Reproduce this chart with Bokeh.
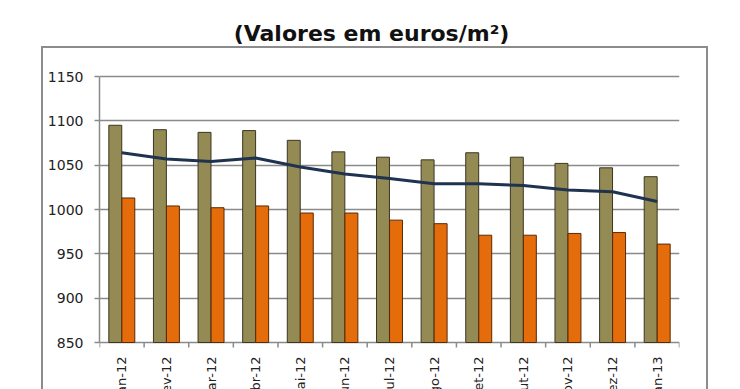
import numpy as np
from bokeh.plotting import figure
from bokeh.models import ColumnDataSource, FixedTicker, Range1d, InlineStyleSheet
from bokeh.core.properties import value
from bokeh.transform import dodge
from bokeh.embed import file_html
from bokeh.resources import INLINE

# ---- data ----
months = ["Jan-12", "Fev-12", "Mar-12", "Abr-12", "Mai-12", "Jun-12", "Jul-12",
          "Ago-12", "Set-12", "Out-12", "Nov-12", "Dez-12", "Jan-13"]
serie_a = [1095, 1090, 1087, 1089, 1078, 1065, 1059, 1056, 1064, 1059, 1052, 1047, 1037]  # olive bars
serie_b = [1013, 1004, 1002, 1004, 996, 996, 988, 984, 971, 971, 973, 974, 961]           # orange bars
serie_c = [1064, 1057, 1054, 1058, 1048, 1040, 1035, 1029, 1029, 1027, 1022, 1020, 1009]  # line
y_ticks = [850, 900, 950, 1000, 1050, 1100, 1150]
title_text = "(Valores em euros/m\u00b2)"

n = len(months)
xc = np.arange(1, n + 1)
boundaries = np.arange(0.5, n + 1, 1.0)
y_min, y_max = y_ticks[0], y_ticks[-1]

W, H = 740, 389
left, right, top, axis_px = 99, 679, 76, 342
per_px = (y_max - y_min) / (axis_px - top)
# the frame fills the full height; the value range 850-1150 sits at px 76-342
y_lo = y_min - (H - axis_px) * per_px
y_hi = y_max + top * per_px

src = ColumnDataSource(dict(x=xc, a=serie_a, b=serie_b, c=serie_c, m=months,
                            base=[y_min] * n))

css = (":host::after { content: ''; position: absolute; left: 41px; top: 46px; "
       "width: 667px; height: 343px; box-sizing: border-box; "
       "border: 2px solid #8c8c8c; border-bottom: none; pointer-events: none; z-index: 5; }")

p = figure(width=W, height=H, output_backend="svg", toolbar_location=None,
           x_range=Range1d(0.5, n + 0.5), y_range=Range1d(y_lo, y_hi),
           x_axis_location=None,
           min_border_left=left, min_border_right=W - right,
           min_border_top=0, min_border_bottom=0,
           stylesheets=[InlineStyleSheet(css=css)])

bw = 0.29
off = 0.146
p.vbar(x=dodge("x", -off), top="a", bottom="base", width=bw, source=src,
       fill_color="#948A54", line_color="#3b3522", line_width=1)
p.vbar(x=dodge("x", off), top="b", bottom="base", width=bw, source=src,
       fill_color="#E46C0A", line_color="#5a2a05", line_width=1)
p.line(x="x", y="c", source=src, line_color="#1f3350", line_width=3)

# grid (the 850 grid line doubles as the category axis line)
p.xgrid.visible = False
p.ygrid.ticker = FixedTicker(ticks=y_ticks)
p.ygrid.grid_line_color = "#8a8a8a"
p.ygrid.grid_line_width = 1.5
p.outline_line_color = None
p.background_fill_color = "white"

# y axis
ya = p.yaxis[0]
ya.ticker = FixedTicker(ticks=y_ticks)
ya.bounds = (y_min, y_max)
ya.axis_line_color = "#8a8a8a"
ya.axis_line_width = 1.5
ya.major_tick_line_color = "#8a8a8a"
ya.major_tick_line_width = 1.5
ya.major_tick_out = 5
ya.major_tick_in = 0
ya.minor_tick_line_color = None
ya.major_label_text_font = "DejaVu Sans"
ya.major_label_text_font_size = "14px"
ya.major_label_text_color = "#222222"
ya.major_label_standoff = 11

# category tick marks between months
p.ray(x=boundaries, y=[y_min] * len(boundaries), length=5, length_units="screen",
      angle=-np.pi / 2, line_color="#8a8a8a", line_width=1.5)

# month labels, rotated, clipped by the bottom edge like the reference
p.text(x="x", y="base", text="m", source=src, angle=np.pi / 2,
       text_align="right", text_baseline="middle", y_offset=14,
       text_font=value("DejaVu Sans"), text_font_size="13px", text_color="#222222")

# title
p.text(x=[(n + 1) / 2], y=[y_max], text=[title_text], x_offset=-18, y_offset=-43,
       text_align="center", text_baseline="middle",
       text_font=value("DejaVu Sans"), text_font_size="22px", text_font_style="bold",
       text_color="#111111")

open("out.html", "w").write(file_html(p, INLINE))
